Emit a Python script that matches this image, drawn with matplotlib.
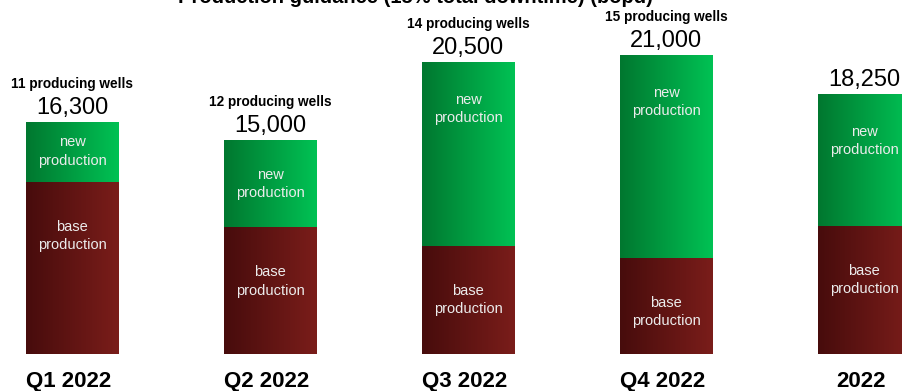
import numpy as np
import matplotlib.pyplot as plt
from matplotlib.colors import LinearSegmentedColormap

# Production guidance per period (bopd)
periodos = ['Q1 2022', 'Q2 2022', 'Q3 2022', 'Q4 2022', '2022']
total = [16300, 15000, 20500, 21000, 18250]
base = [12100, 8900, 7600, 6750, 9000]
pozos = ['11 producing wells', '12 producing wells', '14 producing wells',
         '15 producing wells', '']
nueva = [t - b for t, b in zip(total, base)]

fuente = ['Liberation Sans', 'DejaVu Sans']

cmap_rojo = LinearSegmentedColormap.from_list('rojo', ['#470c0c', '#7a1d1a'])
cmap_verde = LinearSegmentedColormap.from_list('verde', ['#00772f', '#00c254'])
gradiente = np.linspace(0, 1, 256).reshape(1, -1)

W, H = 903, 391
fig = plt.figure(figsize=(W / 100, H / 100), dpi=100)
ax = fig.add_axes([0, 0, 1, 1])
ax.axis('off')

# escala: 198 px entre barras, barra centrada en x=72 px, base en y=37 px
paso = 198.0
escala = 14.25 / 1000.0  # px por bopd
xmin = -72 / paso
xmax = (W - 72) / paso
ymin = -37 / escala
ymax = (H - 37) / escala

x = np.arange(len(periodos))
ancho = 0.465


def barras_gradiente(valores, fondo, cmap):
    barras = ax.bar(x, valores, ancho, bottom=fondo, color='none', linewidth=0)
    for b in barras:
        x0, y0 = b.get_x(), b.get_y()
        im = ax.imshow(gradiente, extent=[x0, x0 + b.get_width(), y0, y0 + b.get_height()],
                       cmap=cmap, aspect='auto', zorder=2)
        im.set_clip_path(b)
    return barras


barras_gradiente(base, 0, cmap_rojo)
barras_gradiente(nueva, base, cmap_verde)

ax.set_xlim(xmin, xmax)
ax.set_ylim(ymin, ymax)

for i in range(len(periodos)):
    # textos dentro de las barras
    y_nueva = total[i] - min(nueva[i] / 2, 3300)
    ax.text(x[i], y_nueva, 'new\nproduction', ha='center', va='center',
            color='#ececec', fontsize=10.5, family=fuente, linespacing=1.4, zorder=3)
    ax.text(x[i], base[i] - 3800, 'base\nproduction', ha='center', va='center',
            color='#ececec', fontsize=10.5, family=fuente, linespacing=1.4, zorder=3)
    # valor total
    ax.annotate(f'{total[i]:,}', (x[i], total[i]), xytext=(0, 3),
                textcoords='offset pixels', ha='center', va='bottom',
                fontsize=17, family=fuente, color='black')
    if pozos[i]:
        ax.annotate(pozos[i], (x[i], total[i]), xytext=(0, 34),
                    textcoords='offset pixels', ha='center', va='baseline',
                    fontsize=9.8, family=fuente, fontweight='bold')
    # etiqueta de categoria
    px = (x[i] - xmin) / (xmax - xmin)
    fig.text(px - 3 / W, 4 / H, periodos[i], ha='center', va='baseline',
             fontsize=16, family=fuente, fontweight='bold')

fig.text(415 / W, (H - 3) / H, 'Production guidance (15% total downtime) (bopd)',
         ha='center', va='baseline', fontsize=14.5, family=fuente, fontweight='bold')

fig.savefig('out.png', dpi=100)
